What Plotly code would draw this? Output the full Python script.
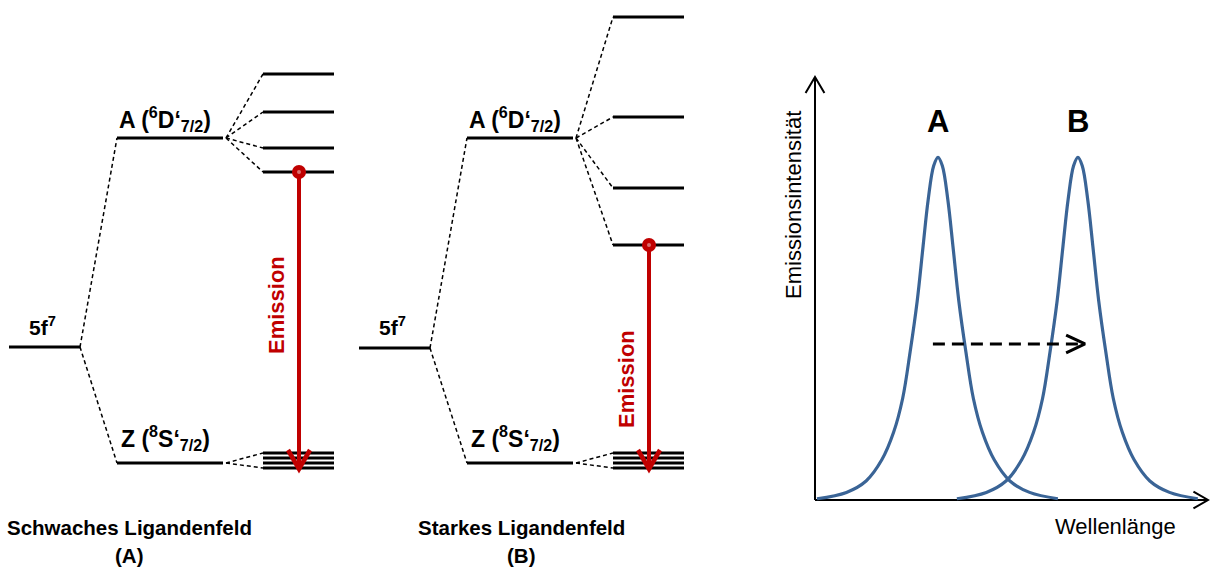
import plotly.graph_objects as go

# ------------------------------------------------------------------
# DATA
# ------------------------------------------------------------------
# Energy-level diagrams (vertical position on the diagram scale; smaller value = higher energy)
diagram_titles = ["Schwaches Ligandenfeld", "Starkes Ligandenfeld"]
diagram_tags = ["(A)", "(B)"]
free_ion_label = "5f<sup>7</sup>"
term_A_label = "A (<sup>6</sup>D‘<sub>7/2</sub>)"
term_Z_label = "Z (<sup>8</sup>S‘<sub>7/2</sub>)"
free_ion_level = [347, 348]
term_A_level = [138, 138]
term_Z_level = [463, 463]
split_A_levels = [[74, 112, 148, 172], [17, 117, 188, 245]]
split_Z_levels = [[453, 458, 463, 468], [453, 458, 463, 468]]
emission_label = "Emission"

# Emission spectra (wavelength, intensity in arbitrary units)
wl_A = [0.5, 8, 13, 17, 20, 22.3, 24.2, 26, 27.5, 28.8, 30.2, 31.3,
        32.4, 33.8, 35.1, 36.6, 38.4, 40.3, 42.6, 45.6, 49.6, 54.6, 61.8]
int_A = [0.3, 1.8, 4.5, 9.5, 16, 24, 35, 47, 60, 71, 79, 81,
         79, 71, 60, 47, 35, 24, 16, 9.5, 4.5, 1.8, 0.3]
wl_B = [36.1, 43.6, 48.6, 52.6, 55.6, 57.9, 59.8, 61.6, 63.1, 64.4, 65.8, 66.9,
        68.0, 69.4, 70.7, 72.2, 74.0, 75.9, 78.2, 81.2, 85.2, 90.2, 97.4]
int_B = [0.3, 1.8, 4.5, 9.5, 16, 24, 35, 47, 60, 71, 79, 81,
         79, 71, 60, 47, 35, 24, 16, 9.5, 4.5, 1.8, 0.3]
peak_labels = ["A", "B"]
peak_label_pos = [31.3, 66.9]
shift_arrow_wl = [30.0, 68.7]
shift_arrow_int = 36.9
x_title = "Wellenlänge"
y_title = "Emissionsintensität"

# ------------------------------------------------------------------
# LAYOUT CONSTANTS
# ------------------------------------------------------------------
W, H = 1212, 573
FONT = "Liberation Sans, Arial, sans-serif"
RED = "#C00000"
BLUE = "#3A6496"
diagram_offset = [0, 350]
free_x = (9, 80)
term_x = (117, 223)
fan_x = 226
split_x = (263, 334)
arrow_x = 299
arrow_tip = 469
emission_label_y = [305, 379]
title_x = [129, 521]

# spectrum axes: pixel anchors
SX0, SXU = 815, 3.93      # pixel of wavelength 0, px per unit
SY0, SYU = 500, 4.23      # pixel of intensity 0, px per unit
x2_range = [-5, 101]
y2_range = [-10, 100.5]
x2_dom = [(SX0 + x2_range[0] * SXU) / W, (SX0 + x2_range[1] * SXU) / W]
y2_dom = [1 - (SY0 - y2_range[0] * SYU) / H, 1 - (SY0 - y2_range[1] * SYU) / H]

fig = go.Figure()


def seg_trace(xs, ys, color="black", width=3, dash=None, xaxis="x", yaxis="y"):
    fig.add_trace(go.Scatter(x=xs, y=ys, mode="lines", hoverinfo="skip",
                             line=dict(color=color, width=width, dash=dash),
                             xaxis=xaxis, yaxis=yaxis, showlegend=False))


for d in range(2):
    o = diagram_offset[d]
    # solid levels
    xs, ys = [], []
    for (x0, x1), y in [(free_x, free_ion_level[d]), (term_x, term_A_level[d]), (term_x, term_Z_level[d])]:
        xs += [x0 + o, x1 + o, None]
        ys += [y, y, None]
    for y in split_A_levels[d] + split_Z_levels[d]:
        xs += [split_x[0] + o, split_x[1] + o, None]
        ys += [y, y, None]
    seg_trace(xs, ys, width=3)
    # dashed connectors
    dx, dy = [], []
    for y in [term_A_level[d], term_Z_level[d]]:
        dx += [free_x[1] + o, term_x[0] + o, None]
        dy += [free_ion_level[d], y, None]
    for y in split_A_levels[d]:
        dx += [fan_x + o, split_x[0] + o, None]
        dy += [term_A_level[d], y, None]
    for y in [split_Z_levels[d][0], split_Z_levels[d][-1]]:
        dx += [fan_x + o, split_x[0] + o, None]
        dy += [term_Z_level[d], y, None]
    seg_trace(dx, dy, width=1.5, dash="4px,3px")
    # emission arrow
    ax = arrow_x + o
    y_start = split_A_levels[d][-1]
    seg_trace([ax, ax], [y_start, arrow_tip - 2], color=RED, width=4)
    seg_trace([ax - 11, ax, ax + 11], [arrow_tip - 19, arrow_tip, arrow_tip - 19], color=RED, width=4.5)
    fig.add_trace(go.Scatter(x=[ax], y=[y_start], mode="markers", hoverinfo="skip", showlegend=False,
                             marker=dict(size=14, color=RED, line=dict(width=0))))
    fig.add_trace(go.Scatter(x=[ax], y=[y_start], mode="markers", hoverinfo="skip", showlegend=False,
                             marker=dict(size=4, color="#D87070", line=dict(width=0))))
    # labels
    ann = [
        dict(x=42 + o, y=326, text="<b>" + free_ion_label + "</b>", size=21, xa="center"),
        dict(x=term_x[0] + o, y=119, text="<b>" + term_A_label + "</b>", size=23, xa="left"),
        dict(x=term_x[0] + 2 + o, y=438, text="<b>" + term_Z_label + "</b>", size=23, xa="left"),
        dict(x=title_x[d], y=527, text="<b>" + diagram_titles[d] + "</b>", size=20.5, xa="center"),
        dict(x=title_x[d], y=555, text="<b>" + diagram_tags[d] + "</b>", size=20.5, xa="center"),
    ]
    for a in ann:
        fig.add_annotation(x=a["x"], y=a["y"], xref="x", yref="y", text=a["text"], showarrow=False,
                           xanchor=a["xa"], yanchor="middle",
                           font=dict(family=FONT, size=a["size"], color="black"))
    fig.add_annotation(x=ax - 23, y=emission_label_y[d], xref="x", yref="y", text="<b>" + emission_label + "</b>",
                       showarrow=False, textangle=-90, xanchor="center", yanchor="middle",
                       font=dict(family=FONT, size=22, color=RED))

# ---------------- spectrum ----------------
# axes with open arrows
seg_trace([0, 0], [0, 100], width=2, xaxis="x2", yaxis="y2")
seg_trace([-2.4, 0, 2.4], [96.2, 100, 96.2], width=2, xaxis="x2", yaxis="y2")
seg_trace([0, 100], [0, 0], width=2, xaxis="x2", yaxis="y2")
seg_trace([96.3, 100, 96.3], [2.0, 0, -2.0], width=2, xaxis="x2", yaxis="y2")
# curves
fig.add_trace(go.Scatter(x=wl_A, y=int_A, mode="lines", line=dict(color=BLUE, width=3.2, shape="spline", smoothing=1.0),
                         xaxis="x2", yaxis="y2", showlegend=False, hoverinfo="skip"))
fig.add_trace(go.Scatter(x=wl_B, y=int_B, mode="lines", line=dict(color=BLUE, width=3.2, shape="spline", smoothing=1.0),
                         xaxis="x2", yaxis="y2", showlegend=False, hoverinfo="skip"))
# dashed shift arrow
seg_trace(shift_arrow_wl, [shift_arrow_int, shift_arrow_int], width=3, dash="12px,7px", xaxis="x2", yaxis="y2")
seg_trace([shift_arrow_wl[1] - 4.8, shift_arrow_wl[1], shift_arrow_wl[1] - 4.8],
          [shift_arrow_int + 2.1, shift_arrow_int, shift_arrow_int - 2.1], width=3, xaxis="x2", yaxis="y2")
for lab, xp in zip(peak_labels, peak_label_pos):
    fig.add_annotation(x=xp, y=89.4, xref="x2", yref="y2", text="<b>" + lab + "</b>", showarrow=False,
                       xanchor="center", yanchor="middle", font=dict(family=FONT, size=31, color="black"))
fig.add_annotation(x=1115, y=526, xref="x", yref="y", text=x_title, showarrow=False,
                   xanchor="center", yanchor="middle", font=dict(family=FONT, size=22, color="black"))
fig.add_annotation(x=793, y=205, xref="x", yref="y", text=y_title, showarrow=False, textangle=-90,
                   xanchor="center", yanchor="middle", font=dict(family=FONT, size=22, color="black"))

hidden = dict(visible=False, showgrid=False, zeroline=False, fixedrange=True)
fig.update_layout(
    width=W, height=H, margin=dict(l=0, r=0, t=0, b=0),
    paper_bgcolor="white", plot_bgcolor="rgba(0,0,0,0)", showlegend=False,
    xaxis=dict(range=[0, W], domain=[0, 1], **hidden),
    yaxis=dict(range=[H, 0], domain=[0, 1], **hidden),
    xaxis2=dict(range=x2_range, domain=x2_dom, anchor="y2", **hidden),
    yaxis2=dict(range=y2_range, domain=y2_dom, anchor="x2", **hidden),
)
fig.write_html("out.html", config={"displayModeBar": False},
               post_script="document.body.style.margin='0';document.body.style.overflow='hidden';")
